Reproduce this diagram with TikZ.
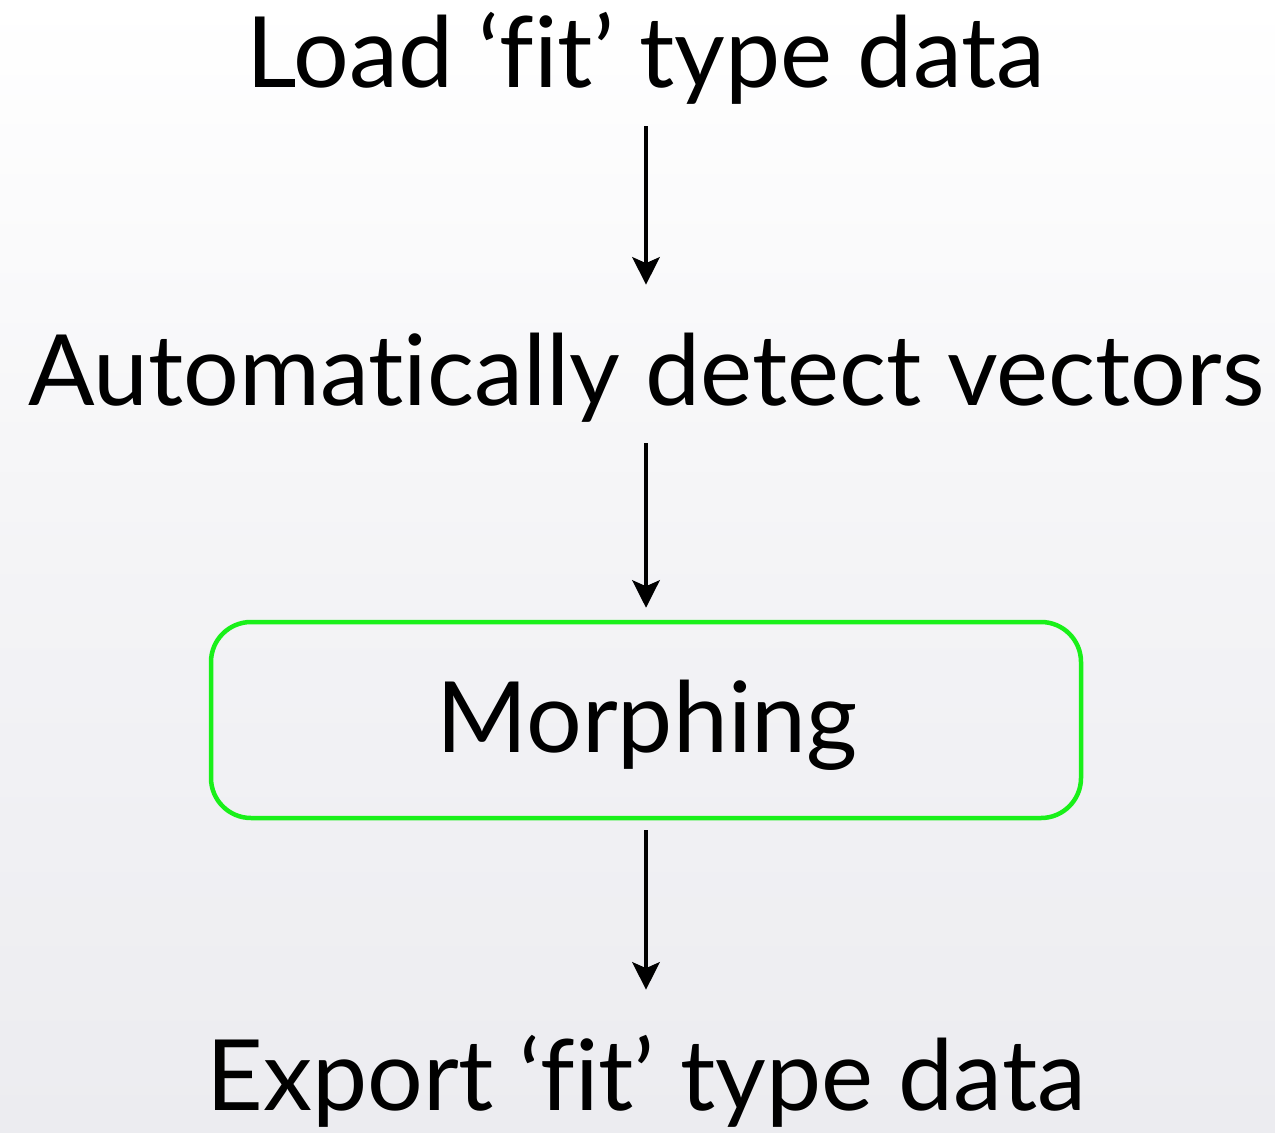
\documentclass[tikz,border=0pt]{standalone}
\usepackage{fontspec}
\setmainfont{Lato}[Ligatures=NoCommon]
\usetikzlibrary{positioning,arrows.meta}
\definecolor{bgGray}{RGB}{236,236,240}
\definecolor{morphGreen}{RGB}{25,240,25}

\begin{document}
\begin{tikzpicture}[every node/.style={font=\fontsize{56}{60}\selectfont, inner sep=0pt},
        step text/.style={text height=2.4cm, text depth=0.76cm, anchor=base},
        flow/.style={-{Stealth[length=0.55cm, width=0.55cm, inset=0.12cm]}, line width=0.07cm}]
        \useasboundingbox (0,0) rectangle (25.5,-22.64);
        \shade[top color=white, bottom color=bgGray, middle color=white!40!bgGray] (0,0) rectangle (25.5,-22.64);

        \node[step text] (load) at (12.92,-1.76) {Load ‘fit’ type data};
        \node[step text] (detect) at (12.92,-8.1) {Automatically detect vectors};
        \node[draw=morphGreen, line width=0.09cm, rounded corners=0.8cm,
            minimum width=17.4cm, minimum height=3.92cm] (morph) at (12.92,-14.4) {};
        \node[anchor=base] (morphtext) at (12.94,-15.04) {Morphing};
        \node[step text] (export) at (12.92,-22.2) {Export ‘fit’ type data};

        \draw[flow] (load) -- (detect);
        \draw[flow, shorten >=0.24cm] (detect) -- (morph);
        \draw[flow, shorten <=0.2cm] (morph) -- (export);
    \end{tikzpicture}
\end{document}
